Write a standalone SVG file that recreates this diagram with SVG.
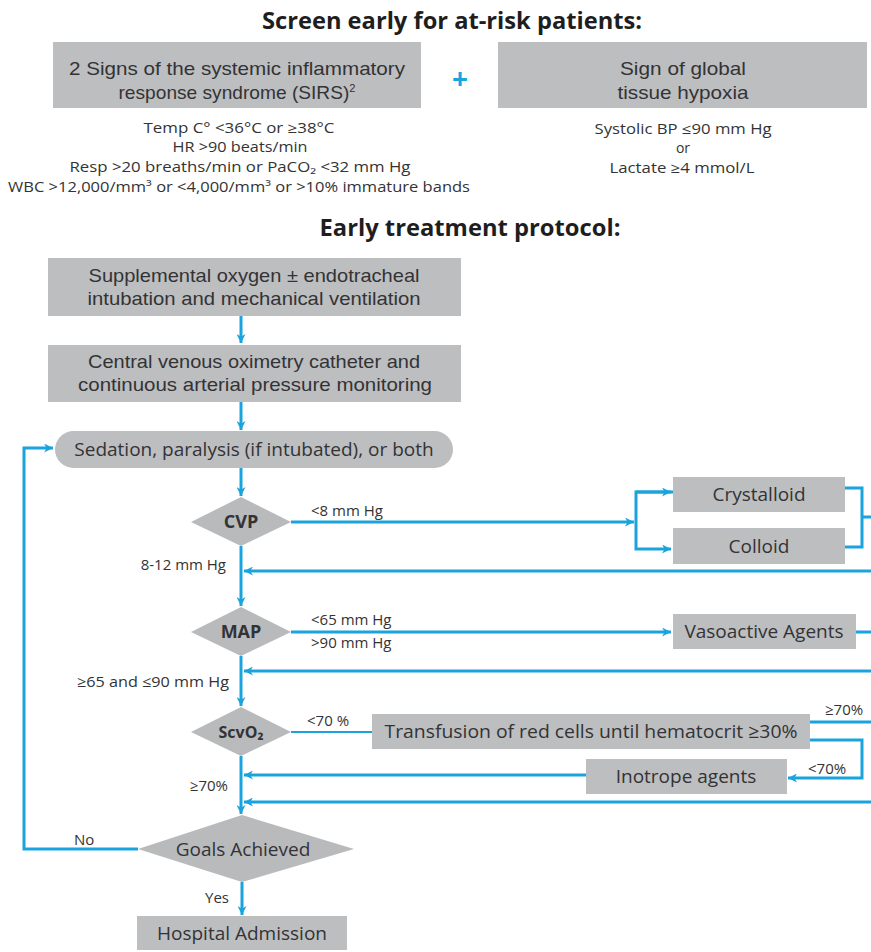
<svg xmlns="http://www.w3.org/2000/svg" width="871" height="952" viewBox="0 0 871 952">
<defs>
<marker id="ah" viewBox="0 0 10 10" refX="10" refY="5" markerWidth="10" markerHeight="9" markerUnits="userSpaceOnUse" orient="auto">
<path d="M0,0 L10,5 L0,10 L3,5 Z" fill="#1ba3dd"/>
</marker>
<style>
.box{fill:#bdbec0}
.dia{fill:#b9babc}
.t{font-family:"Open Sans","Liberation Sans",sans-serif;fill:#333335}
.t2{font-family:"Liberation Sans",Arial,sans-serif;fill:#333335;font-size:19px;text-anchor:middle}
.ttl{font-family:"Open Sans","Liberation Sans",sans-serif;font-weight:bold;font-size:23px;fill:#1e1e1e;text-anchor:middle}
.bx{font-size:19px;text-anchor:middle}
.top{font-size:19px;text-anchor:middle}
.cr{font-size:14px;text-anchor:middle}
.sm{font-size:15px}
.mid{text-anchor:middle}
.end{text-anchor:end}
.b{font-weight:bold}
.ln{fill:none;stroke:#1ba3dd;stroke-width:3}
.thin{fill:none;stroke:#1ba3dd;stroke-width:2}
</style>
</defs>
<rect width="871" height="952" fill="#ffffff"/>

<g id="title1"><text class="ttl" x="452" y="29" textLength="380" lengthAdjust="spacingAndGlyphs">Screen early for at-risk patients:</text></g>

<g id="sirs">
<rect class="box" x="53" y="42" width="368" height="66"/>
<text class="t2" x="237" y="75" textLength="336" lengthAdjust="spacingAndGlyphs">2 Signs of the systemic inflammatory</text>
<text class="t2" x="237" y="99" textLength="237" lengthAdjust="spacingAndGlyphs">response syndrome (SIRS)<tspan font-size="11" dy="-7">2</tspan></text>
</g>
<g id="plus"><text class="t" x="460" y="89" font-size="28" font-weight="bold" style="fill:#1ba3dd" text-anchor="middle">+</text></g>
<g id="hypoxia">
<rect class="box" x="498" y="42" width="369" height="66"/>
<text class="t2" x="683" y="75" textLength="126" lengthAdjust="spacingAndGlyphs">Sign of global</text>
<text class="t2" x="683" y="99" textLength="131" lengthAdjust="spacingAndGlyphs">tissue hypoxia</text>
</g>
<g id="sirs-criteria">
<text class="t cr" x="239" y="133" textLength="191" lengthAdjust="spacingAndGlyphs">Temp C°  &lt;36°C or  ≥38°C</text>
<text class="t cr" x="240" y="152" textLength="135" lengthAdjust="spacingAndGlyphs">HR  &gt;90 beats/min</text>
<text class="t cr" x="240" y="172" textLength="341" lengthAdjust="spacingAndGlyphs">Resp  &gt;20 breaths/min or PaCO₂  &lt;32 mm Hg</text>
<text class="t cr" x="239" y="192" textLength="462" lengthAdjust="spacingAndGlyphs">WBC  &gt;12,000/mm³ or  &lt;4,000/mm³ or &gt;10% immature bands</text>
</g>
<g id="hypoxia-criteria">
<text class="t cr" x="683" y="134" textLength="177" lengthAdjust="spacingAndGlyphs">Systolic BP  ≤90 mm Hg</text>
<text class="t cr" x="683" y="153">or</text>
<text class="t cr" x="682" y="173" textLength="145" lengthAdjust="spacingAndGlyphs">Lactate  ≥4 mmol/L</text>
</g>

<g id="title2"><text class="ttl" x="470" y="236" textLength="301" lengthAdjust="spacingAndGlyphs">Early treatment protocol:</text></g>

<g id="connectors">
<path class="ln" d="M241,316 V343" marker-end="url(#ah)"/>
<path class="ln" d="M241,402 V430" marker-end="url(#ah)"/>
<path class="ln" d="M241,468 V496" marker-end="url(#ah)"/>
<path class="ln" d="M291,522 H634" marker-end="url(#ah)"/>
<path class="ln" d="M673,492 H636 V549 H671" marker-end="url(#ah)"/>
<path class="ln" d="M636,492 H671" marker-end="url(#ah)"/>
<path class="ln" d="M845,488 H862 V547 H845 M862,517 H871"/>
<path class="ln" d="M871,571 H244" marker-end="url(#ah)"/>
<path class="ln" d="M241,546 V606" marker-end="url(#ah)"/>
<path class="ln" d="M291,632 H671" marker-end="url(#ah)"/>
<path class="ln" d="M856,632 H871"/>
<path class="ln" d="M871,671 H244" marker-end="url(#ah)"/>
<path class="ln" d="M241,656 V706" marker-end="url(#ah)"/>
<path class="thin" d="M291,732 H372"/>
<path class="ln" d="M810,722 H871"/>
<path class="ln" d="M810,740 H862 V778 H788" marker-end="url(#ah)"/>
<path class="ln" d="M586,775 H244" stroke-width="4" marker-end="url(#ah)"/>
<path class="ln" d="M871,802 H244" marker-end="url(#ah)"/>
<path class="ln" d="M241,756 V814" marker-end="url(#ah)"/>
<path class="ln" d="M138,849 H24 V448 H53" marker-end="url(#ah)"/>
<path class="ln" d="M242,882 V915" marker-end="url(#ah)"/>
</g>

<g id="labels">
<text class="t sm" x="311" y="516">&lt;8 mm Hg</text>
<text class="t sm end" x="226" y="570">8-12 mm Hg</text>
<text class="t sm" x="311" y="625">&lt;65 mm Hg</text>
<text class="t sm" x="311" y="648">&gt;90 mm Hg</text>
<text class="t sm end" x="229" y="687" textLength="152" lengthAdjust="spacingAndGlyphs">≥65 and  ≤90 mm Hg</text>
<text class="t sm" x="307" y="726">&lt;70 %</text>
<text class="t sm" x="825" y="715">≥70%</text>
<text class="t sm" x="808" y="774">&lt;70%</text>
<text class="t sm end" x="228" y="791">≥70%</text>
<text class="t sm" x="74" y="845">No</text>
<text class="t sm" x="205" y="903">Yes</text>
</g>

<g id="oxygen">
<rect class="box" x="48" y="258" width="413" height="58"/>
<text class="t2" x="254" y="282" textLength="331" lengthAdjust="spacingAndGlyphs">Supplemental oxygen ± endotracheal</text>
<text class="t2" x="254" y="305" textLength="333" lengthAdjust="spacingAndGlyphs">intubation and mechanical ventilation</text>
</g>
<g id="catheter">
<rect class="box" x="48" y="345" width="413" height="57"/>
<text class="t2" x="254" y="368" textLength="332" lengthAdjust="spacingAndGlyphs">Central venous oximetry catheter and</text>
<text class="t2" x="255" y="391" textLength="354" lengthAdjust="spacingAndGlyphs">continuous arterial pressure monitoring</text>
</g>
<g id="sedation">
<rect class="box" x="55" y="431" width="398" height="37" rx="18.5"/>
<text class="t bx" x="254" y="456">Sedation, paralysis (if intubated), or both</text>
</g>
<g id="cvp">
<polygon class="dia" points="241,497 291,522 241,546 191,522"/>
<text class="t b mid" x="241" y="528" font-size="18">CVP</text>
</g>
<g id="crystalloid">
<rect class="box" x="673" y="477" width="172" height="35"/>
<text class="t bx" x="759" y="501">Crystalloid</text>
</g>
<g id="colloid">
<rect class="box" x="673" y="528" width="172" height="36"/>
<text class="t bx" x="759" y="553">Colloid</text>
</g>
<g id="map">
<polygon class="dia" points="241,607 291,632 241,656 191,632"/>
<text class="t b mid" x="241" y="638" font-size="18">MAP</text>
</g>
<g id="vasoactive">
<rect class="box" x="673" y="614" width="183" height="35"/>
<text class="t bx" x="764" y="638">Vasoactive Agents</text>
</g>
<g id="scvo2">
<polygon class="dia" points="241,707 291,732 241,756 191,732"/>
<text class="t b mid" x="241" y="738" font-size="16">ScvO₂</text>
</g>
<g id="transfusion">
<rect class="box" x="372" y="714" width="438" height="35"/>
<text class="t bx" x="591" y="738" textLength="413" lengthAdjust="spacingAndGlyphs">Transfusion of red cells until hematocrit  ≥30%</text>
</g>
<g id="inotrope">
<rect class="box" x="586" y="759" width="201" height="35"/>
<text class="t bx" x="686" y="783">Inotrope agents</text>
</g>
<g id="goals">
<polygon class="dia" points="242,815 354,849 242,882 138,849"/>
<text class="t bx" x="243" y="856">Goals Achieved</text>
</g>
<g id="hospital">
<rect class="box" x="137" y="916" width="210" height="34"/>
<text class="t bx" x="242" y="940">Hospital Admission</text>
</g>
</svg>
